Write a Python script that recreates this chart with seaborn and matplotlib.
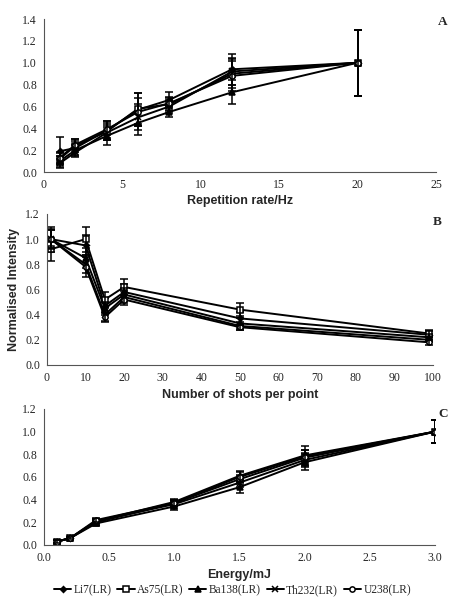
import numpy as np
import pandas as pd
import seaborn as sns
import matplotlib.pyplot as plt

sns.set_style("white")
plt.rcParams["font.family"] = ["Liberation Serif", "DejaVu Serif"]

series = ["Li7(LR)", "As75(LR)", "Ba138(LR)", "Th232(LR)", "U238(LR)"]
markers = {"Li7(LR)": "D", "As75(LR)": "s", "Ba138(LR)": "^", "Th232(LR)": "x", "U238(LR)": "o"}
open_marks = ["As75(LR)", "U238(LR)"]

# Panel A: repetition rate
rate_x = [1, 2, 4, 6, 8, 12, 20]
rate_y = {
    "Li7(LR)":   [0.19, 0.22, 0.38, 0.57, 0.66, 0.94, 1.00],
    "As75(LR)":  [0.12, 0.24, 0.37, 0.58, 0.62, 0.90, 1.00],
    "Ba138(LR)": [0.10, 0.20, 0.33, 0.45, 0.55, 0.73, 1.00],
    "Th232(LR)": [0.08, 0.18, 0.36, 0.50, 0.60, 0.92, 1.00],
    "U238(LR)":  [0.13, 0.25, 0.39, 0.55, 0.63, 0.88, 1.00],
}
rate_err = {
    "Li7(LR)":   [0.13, 0.06, 0.09, 0.15, 0.07, 0.14, 0.30],
    "As75(LR)":  [0.05, 0.06, 0.08, 0.14, 0.06, 0.13, 0.30],
    "Ba138(LR)": [0.05, 0.05, 0.08, 0.11, 0.05, 0.11, 0.30],
    "Th232(LR)": [0.04, 0.04, 0.07, 0.12, 0.06, 0.12, 0.30],
    "U238(LR)":  [0.05, 0.05, 0.08, 0.13, 0.06, 0.14, 0.30],
}

# Panel B: number of shots per point
shots_x = [1, 10, 15, 20, 50, 99]
shots_y = {
    "Li7(LR)":   [1.00, 0.95, 0.47, 0.58, 0.37, 0.24],
    "As75(LR)":  [0.92, 1.00, 0.52, 0.62, 0.44, 0.25],
    "Ba138(LR)": [1.00, 0.85, 0.45, 0.56, 0.33, 0.22],
    "Th232(LR)": [1.00, 0.80, 0.40, 0.54, 0.31, 0.20],
    "U238(LR)":  [1.00, 0.78, 0.38, 0.52, 0.30, 0.18],
}
shots_err = {
    "Li7(LR)":   [0.10, 0.08, 0.06, 0.06, 0.05, 0.03],
    "As75(LR)":  [0.09, 0.10, 0.06, 0.06, 0.05, 0.03],
    "Ba138(LR)": [0.08, 0.08, 0.05, 0.05, 0.04, 0.03],
    "Th232(LR)": [0.07, 0.07, 0.05, 0.05, 0.03, 0.02],
    "U238(LR)":  [0.07, 0.08, 0.04, 0.04, 0.02, 0.02],
}

# Panel C: energy
energy_x = [0.1, 0.2, 0.4, 1.0, 1.5, 2.0, 3.0]
energy_y = {
    "Li7(LR)":   [0.03, 0.06, 0.21, 0.38, 0.61, 0.79, 1.00],
    "As75(LR)":  [0.03, 0.06, 0.20, 0.37, 0.58, 0.77, 1.00],
    "Ba138(LR)": [0.03, 0.06, 0.19, 0.34, 0.51, 0.73, 1.00],
    "Th232(LR)": [0.03, 0.06, 0.21, 0.36, 0.55, 0.75, 1.00],
    "U238(LR)":  [0.03, 0.06, 0.22, 0.37, 0.60, 0.78, 1.00],
}
energy_err = {
    "Li7(LR)":   [0.01, 0.01, 0.02, 0.03, 0.04, 0.08, 0.10],
    "As75(LR)":  [0.01, 0.01, 0.02, 0.03, 0.04, 0.07, 0.10],
    "Ba138(LR)": [0.01, 0.01, 0.02, 0.03, 0.05, 0.07, 0.10],
    "Th232(LR)": [0.01, 0.01, 0.02, 0.03, 0.04, 0.06, 0.10],
    "U238(LR)":  [0.01, 0.01, 0.02, 0.03, 0.04, 0.06, 0.10],
}


def draw(ax, xs, ys, errs):
    for s in series:
        df = pd.DataFrame({"x": xs, "y": ys[s]})
        sns.lineplot(data=df, x="x", y="y", color="black", lw=1.4,
                     marker=markers[s], markersize=3.8 if markers[s] != "D" else 3.0,
                     markeredgecolor="black", markeredgewidth=1.1,
                     markerfacecolor="white" if s in open_marks else "black",
                     ax=ax, label=s, legend=False)
        ax.errorbar(xs, ys[s], yerr=errs[s], fmt="none", ecolor="black",
                    elinewidth=1.1, capsize=3, capthick=1.1)
    sns.despine(ax=ax)
    for sp in ("left", "bottom"):
        ax.spines[sp].set_color("#555555")
        ax.spines[sp].set_linewidth(0.8)
    ax.tick_params(axis="both", direction="out", length=3, width=0.8,
                   color="#555555", labelsize=8.5, pad=2)
    ax.set_ylabel("")


fig = plt.figure(figsize=(4.65, 6.0), dpi=100)
ax_a = fig.add_axes([0.0946, 0.7133, 0.843, 0.255])
ax_b = fig.add_axes([0.101, 0.3917, 0.830, 0.2517])
ax_c = fig.add_axes([0.0946, 0.0917, 0.841, 0.2267])

lab = dict(family=["Liberation Sans", "DejaVu Sans"], fontweight="bold", fontsize=9)

draw(ax_a, rate_x, rate_y, rate_err)
ax_a.set_xlim(0, 25)
ax_a.set_ylim(0, 1.4)
ax_a.set_xticks(range(0, 26, 5))
ax_a.set_yticks(np.arange(0, 1.41, 0.2))
ax_a.set_yticklabels([f"{v:.1f}" for v in np.arange(0, 1.41, 0.2)])
ax_a.set_xlabel("Repetition rate/Hz", labelpad=3, **lab)

draw(ax_b, shots_x, shots_y, shots_err)
ax_b.set_xlim(0, 100)
ax_b.set_ylim(0, 1.2)
ax_b.set_xticks(range(0, 101, 10))
ax_b.set_yticks(np.arange(0, 1.21, 0.2))
ax_b.set_yticklabels([f"{v:.1f}" for v in np.arange(0, 1.21, 0.2)])
ax_b.set_xlabel("Number of shots per point", labelpad=4, **lab)
ax_b.set_ylabel("Normalised Intensity", labelpad=4, **lab)

draw(ax_c, energy_x, energy_y, energy_err)
ax_c.set_xlim(0, 3.0)
ax_c.set_ylim(0, 1.2)
ax_c.set_xticks(np.arange(0, 3.01, 0.5))
ax_c.set_xticklabels([f"{v:.1f}" for v in np.arange(0, 3.01, 0.5)])
ax_c.set_yticks(np.arange(0, 1.21, 0.2))
ax_c.set_yticklabels([f"{v:.1f}" for v in np.arange(0, 1.21, 0.2)])
ax_c.set_xlabel("Energy/mJ", labelpad=4, **lab)

handles = [l for l in ax_c.lines if l.get_label() in series]
fig.legend(handles, series, loc="center", bbox_to_anchor=(0.5, 1 - 590 / 600),
           ncol=5, frameon=False, fontsize=8.3, handlelength=1.5,
           handletextpad=0.2, columnspacing=0.5, borderaxespad=0, borderpad=0)

letter = dict(fontweight="bold", fontsize=9.5, ha="center", va="center")
fig.text(443 / 465, 1 - 22 / 600, "A", **letter)
fig.text(437 / 465, 1 - 222 / 600, "B", **letter)
fig.text(443 / 465, 1 - 414 / 600, "C", **letter)

fig.savefig("out.png", dpi=100)
